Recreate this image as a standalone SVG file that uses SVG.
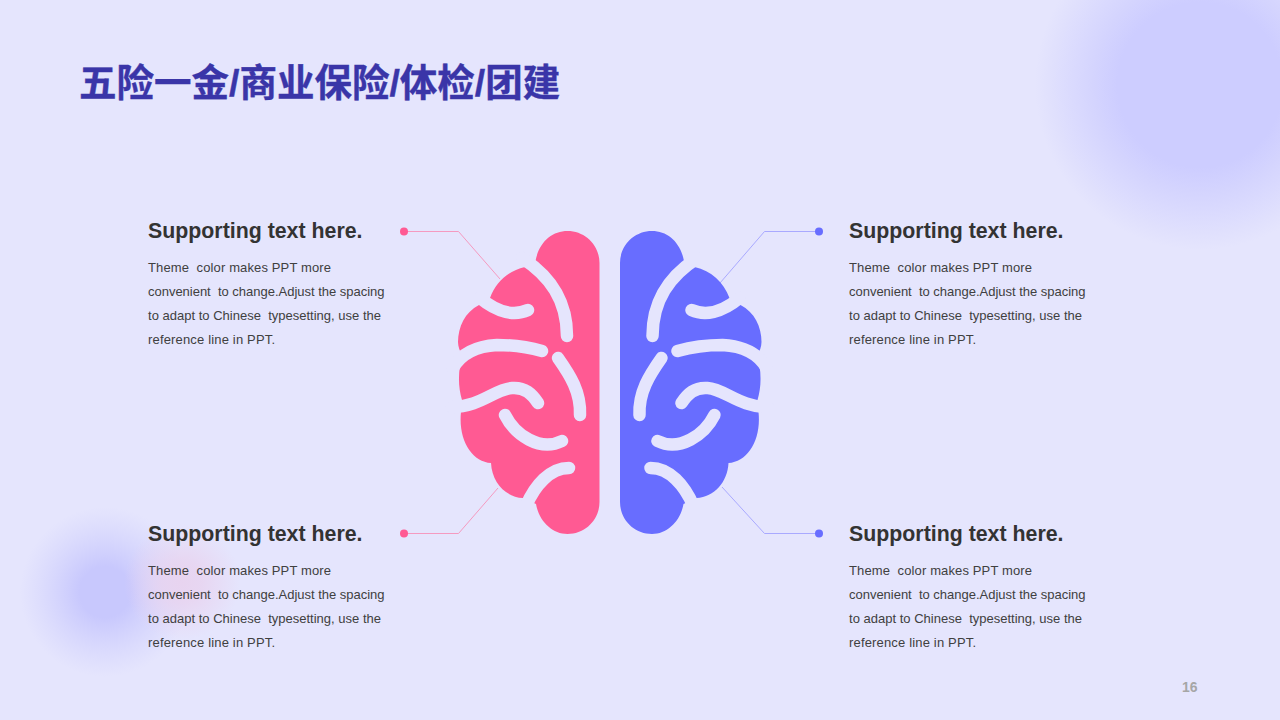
<svg xmlns="http://www.w3.org/2000/svg" width="1280" height="720" viewBox="0 0 1280 720">
<style>
.h{font:bold 21.33px "Liberation Sans",Arial,sans-serif;fill:#333}
.b{font:13px "Liberation Sans",Arial,sans-serif;fill:#404040;white-space:pre}
.s{fill:none;stroke:#e5e5fd;stroke-width:12.500;stroke-linecap:round}
.l{fill:none;stroke-width:1}
</style>
<defs>
<radialGradient id="g1"><stop offset="0" stop-color="#cdcdff"/><stop offset=".5" stop-color="#cdcdff"/><stop offset="1" stop-color="#cdcdff" stop-opacity="0"/></radialGradient>
<radialGradient id="g2"><stop offset="0" stop-color="#c8c8fd"/><stop offset=".3" stop-color="#c8c8fd"/><stop offset="1" stop-color="#d0d0fd" stop-opacity="0"/></radialGradient>
<radialGradient id="g3"><stop offset="0" stop-color="#e8d3ef" stop-opacity=".95"/><stop offset=".35" stop-color="#e8d3ef" stop-opacity=".8"/><stop offset="1" stop-color="#e8d3ef" stop-opacity="0"/></radialGradient>
<g id="brainHalf">
<path d="M599.500 263C599.500 245 585 231 567.500 231C552 231 539 242 535.500 261L525 267C508 271 496 282 490 298L479 305C465 312 458 327 458 342C458 347 460 351 462 355L460 366C458 378 459 390 462 400L461 412C458 440 472 462 491 463C492 482 505 497 523 498L536 504C539 521 552 534 567.500 534C585 534 599.500 520 599.500 502Z"/>
<path class="s" d="M522 258C550 276 567 300 567 336"/>
<path class="s" d="M480 298C498 313 515 316 528 310"/>
<path class="s" d="M453 368C462 352 480 346 497 345C512 345 528 347 542 351"/>
<path class="s" d="M558 358C570 375 581 392 580 415"/>
<path class="s" d="M452 407C480 407 495 389 512 388C525 387 532 394 538 403"/>
<path class="s" d="M505 415C515 435 540 452 562 441"/>
<path class="s" d="M569 468C550 468 535 485 526 506"/>
</g>
</defs>
<rect id="background" width="1280" height="720" fill="#e5e5fd"/>
<circle cx="1200" cy="85" r="165" fill="url(#g1)"/>
<circle cx="105" cy="592" r="85" fill="url(#g2)"/>
<circle cx="182" cy="582" r="58" fill="url(#g3)"/>
<text id="title" x="79" y="96" font-family="'Liberation Sans','Noto Sans CJK SC',sans-serif" font-weight="bold" font-size="37.500" fill="#3a35a8" stroke="#3a35a8" stroke-width=".4">五险一金/商业保险/体检/团建</text>
<g id="connectors">
<path class="l" stroke="#f59ac0" d="M404 231.500H458.500L500 279"/>
<path class="l" stroke="#f59ac0" d="M404 533.500H458.500L498 488"/>
<path class="l" stroke="#a9a9ff" d="M819 231.500H764.500L720 283"/>
<path class="l" stroke="#a9a9ff" d="M819 533.500H764.500L722 487"/>
<circle cx="404" cy="231.500" r="4" fill="#ff5a93"/>
<circle cx="404" cy="533.500" r="4" fill="#ff5a93"/>
<circle cx="819" cy="231.500" r="4" fill="#686dff"/>
<circle cx="819" cy="533.500" r="4" fill="#686dff"/>
</g>
<g id="brain-left" fill="#ff5a93"><use href="#brainHalf"/></g>
<g id="brain-right" fill="#686dff"><use href="#brainHalf" transform="matrix(-1 0 0 1 1219.500 0)"/></g>
<g id="text-tl"><text class="h" x="148" y="238" textLength="214.500">Supporting text here.</text>
<text class="b" x="148" y="272" textLength="183">Theme  color makes PPT more</text><text class="b" x="148" y="296" textLength="236.500">convenient  to change.Adjust the spacing</text><text class="b" x="148" y="320" textLength="233">to adapt to Chinese  typesetting, use the</text><text class="b" x="148" y="344" textLength="127">reference line in PPT.</text></g>
<g id="text-bl"><text class="h" x="148" y="541" textLength="214.500">Supporting text here.</text>
<text class="b" x="148" y="575" textLength="183">Theme  color makes PPT more</text><text class="b" x="148" y="599" textLength="236.500">convenient  to change.Adjust the spacing</text><text class="b" x="148" y="623" textLength="233">to adapt to Chinese  typesetting, use the</text><text class="b" x="148" y="647" textLength="127">reference line in PPT.</text></g>
<g id="text-tr"><text class="h" x="849" y="238" textLength="214.500">Supporting text here.</text>
<text class="b" x="849" y="272" textLength="183">Theme  color makes PPT more</text><text class="b" x="849" y="296" textLength="236.500">convenient  to change.Adjust the spacing</text><text class="b" x="849" y="320" textLength="233">to adapt to Chinese  typesetting, use the</text><text class="b" x="849" y="344" textLength="127">reference line in PPT.</text></g>
<g id="text-br"><text class="h" x="849" y="541" textLength="214.500">Supporting text here.</text>
<text class="b" x="849" y="575" textLength="183">Theme  color makes PPT more</text><text class="b" x="849" y="599" textLength="236.500">convenient  to change.Adjust the spacing</text><text class="b" x="849" y="623" textLength="233">to adapt to Chinese  typesetting, use the</text><text class="b" x="849" y="647" textLength="127">reference line in PPT.</text></g>
<text id="page" x="1182" y="692" font-family="'Liberation Sans',sans-serif" font-weight="bold" font-size="14" fill="#a6a6a6">16</text>
</svg>
